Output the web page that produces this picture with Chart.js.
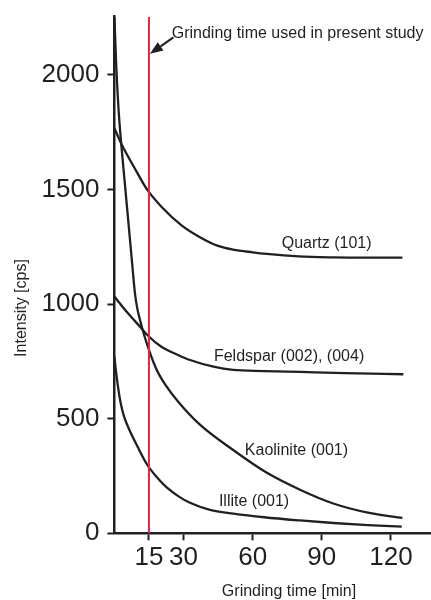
<!DOCTYPE html>
<html>
<head>
<meta charset="utf-8">
<title>Grinding time vs intensity</title>
<script src="https://cdn.jsdelivr.net/npm/chart.js@4.4.0/dist/chart.umd.min.js"></script>
<style>
  html, body { margin: 0; padding: 0; background: #fff; }
  #chart { display: block; }
</style>
</head>
<body>
<canvas id="chart" width="431" height="600"></canvas>
<script>
'use strict';

// ******* DATA *******
let tickTimes = [15, 30, 60, 90, 120];
let tickIntensity = [0, 500, 1000, 1500, 2000];
let studyTime = 15;

let quartzTime = [0, 3, 8.8, 14.3, 20.4, 29, 37.5, 45, 51.5, 60, 66, 80, 95, 110, 125];
let quartzCps = [1767, 1700, 1593, 1498, 1425, 1345, 1290, 1254, 1238, 1226, 1219, 1208, 1204, 1203, 1203];

let feldsparTime = [0, 5.9, 11.7, 14.6, 20.4, 27.6, 32.8, 43, 51.5, 65, 80.6, 100, 125.4];
let feldsparCps = [1033, 960, 895, 862, 814, 778, 756, 727, 713, 708, 704, 699, 694];

let kaoliniteTime = [0, 0.8, 1.8, 3, 4.5, 6, 7.5, 9, 10, 11, 13, 15, 17, 19, 22, 27.6, 37, 52, 66, 81, 95, 110, 125];
let kaoliniteCps = [2254, 2040, 1850, 1695, 1530, 1365, 1200, 1040, 978, 935, 862, 800, 745, 700, 650, 575, 475, 360, 265, 188, 130, 90, 67];

let illiteTime = [0, 0.8, 2, 3, 4.2, 5.9, 10.2, 14.3, 18, 22.7, 28, 32.8, 41.5, 51.6, 65, 80.6, 95, 110, 124.7];
let illiteCps = [771, 698, 610, 555, 509, 465, 375, 298, 250, 200, 160, 133, 102, 86, 70, 56, 45, 36, 29];

let curveNames = ['Quartz (101)', 'Feldspar (002), (004)', 'Kaolinite (001)', 'Illite (001)'];
let noteText = 'Grinding time used in present study';


// ******* STYLE *******
let ink = '#231f20';
let red = '#e2263f';
let fontFamily = "'Liberation Sans', Arial, Helvetica, sans-serif";


// ***** HELPERS *****
function toPoints(xs, ys) {
  return xs.map((x, i) => ({ x: x, y: ys[i] }));
}

function curve(label, xs, ys) {
  return {
    label: label,
    data: toPoints(xs, ys),
    borderColor: ink,
    borderWidth: 2.3,
    pointRadius: 0,
    fill: false,
    cubicInterpolationMode: 'monotone',
    order: 1
  };
}

// labels + arrow + axis titles
let annotations = {
  id: 'annotations',
  afterDatasetsDraw(chart) {
    let ctx = chart.ctx;
    let x = chart.scales.x;
    let y = chart.scales.y;
    let spots = [[92.1, 1262], [75.8, 769], [79, 359], [60.6, 137]];

    ctx.save();
    ctx.fillStyle = ink;
    ctx.strokeStyle = ink;
    ctx.font = '16px ' + fontFamily;
    ctx.textAlign = 'center';
    ctx.textBaseline = 'middle';

    for (let i = 0; i < curveNames.length; i++) {
      ctx.fillText(curveNames[i], x.getPixelForValue(spots[i][0]), y.getPixelForValue(spots[i][1]));
    }

    ctx.fillText(noteText, x.getPixelForValue(79.5), y.getPixelForValue(2181));

    // arrow to the red line
    let x0 = x.getPixelForValue(25.6);
    let y0 = y.getPixelForValue(2164);
    let x1 = x.getPixelForValue(studyTime) + 1;
    let y1 = y.getPixelForValue(2092);
    let ang = Math.atan2(y1 - y0, x1 - x0);
    let len = 13;
    let half = 5;
    let bx = x1 - len * Math.cos(ang);
    let by = y1 - len * Math.sin(ang);
    ctx.lineWidth = 2;
    ctx.beginPath();
    ctx.moveTo(x0, y0);
    ctx.lineTo(bx, by);
    ctx.stroke();
    ctx.beginPath();
    ctx.moveTo(x1, y1);
    ctx.lineTo(bx + half * Math.sin(ang), by - half * Math.cos(ang));
    ctx.lineTo(bx - half * Math.sin(ang), by + half * Math.cos(ang));
    ctx.closePath();
    ctx.fill();

    // axis titles
    ctx.fillText('Grinding time [min]', 289, 592);
    ctx.translate(22, 308);
    ctx.rotate(-Math.PI / 2);
    ctx.fillText('Intensity [cps]', 0, 0);
    ctx.restore();
  }
};


// **** EXECUTABLE CODE *****
let canvasElem = document.getElementById('chart');

let chartObj = {
  type: 'line',
  data: {
    datasets: [
      {
        label: 'study',
        data: [{ x: studyTime, y: 0 }, { x: studyTime, y: 2254 }],
        borderColor: red,
        borderWidth: 2,
        pointRadius: 0,
        order: 0
      },
      curve(curveNames[0], quartzTime, quartzCps),
      curve(curveNames[1], feldsparTime, feldsparCps),
      curve(curveNames[2], kaoliniteTime, kaoliniteCps),
      curve(curveNames[3], illiteTime, illiteCps)
    ]
  },
  options: {
    responsive: false,
    animation: false,
    devicePixelRatio: 1,
    layout: { padding: { top: 16.7, left: 0, right: 0, bottom: 0 } },
    plugins: {
      legend: { display: false },
      tooltip: { enabled: false }
    },
    scales: {
      x: {
        type: 'linear',
        min: 0,
        max: 137.4,
        afterBuildTicks: (axis) => { axis.ticks = tickTimes.map(v => ({ value: v })); },
        afterFit: (axis) => { axis.height = 66.7; axis.paddingLeft = 0; axis.paddingRight = 0; },
        ticks: {
          color: ink,
          font: { family: fontFamily, size: 26 },
          padding: 2,
          autoSkip: false,
          maxRotation: 0,
          minRotation: 0,
          callback: (value) => String(value)
        },
        grid: { drawOnChartArea: false, drawTicks: true, tickLength: 7, tickWidth: 2, tickColor: ink },
        border: { display: true, color: ink, width: 2.5 }
      },
      y: {
        min: 0,
        max: 2254,
        afterBuildTicks: (axis) => { axis.ticks = tickIntensity.map(v => ({ value: v })); },
        afterFit: (axis) => { axis.width = 114.4; axis.paddingTop = 0; axis.paddingBottom = 0; },
        ticks: {
          color: ink,
          font: { family: fontFamily, size: 26 },
          padding: 8,
          callback: (value) => String(value)
        },
        grid: { drawOnChartArea: false, drawTicks: true, tickLength: 7, tickWidth: 2, tickColor: ink },
        border: { display: true, color: ink, width: 2.5 }
      }
    }
  },
  plugins: [annotations]
};

new Chart(canvasElem, chartObj);
</script>
</body>
</html>
